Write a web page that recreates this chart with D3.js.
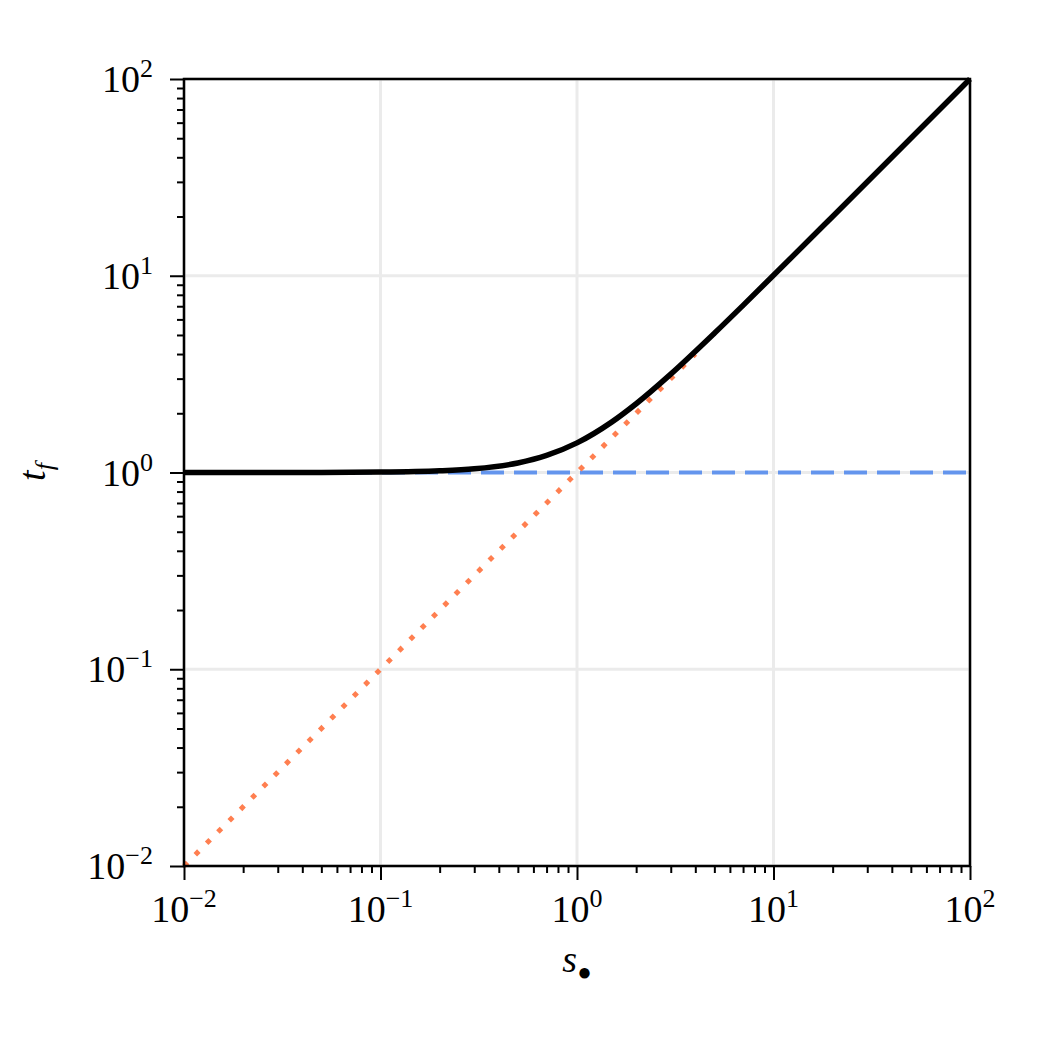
<!DOCTYPE html>
<html>
<head>
<meta charset="utf-8">
<script src="https://cdn.jsdelivr.net/npm/d3@7"></script>
<style>
  body { margin: 0; background: #fff; }
  svg { display: block; }
  .lbl { font-family: "Liberation Serif", "DejaVu Serif", serif; fill: #000; }
</style>
</head>
<body>
<div id="mainDiv"></div>
<script>

// values
var sVals = [0.01, 0.02, 0.05, 0.1, 0.2, 0.3, 0.5, 0.7, 1, 1.5, 2, 3, 5, 7, 10, 20, 50, 100];
var tVals = [1.0, 1.0002, 1.0012, 1.005, 1.02, 1.044, 1.118, 1.221, 1.414, 1.803, 2.236, 3.162, 5.099, 7.071, 10.05, 20.02, 50.01, 100];

var flatX = [0.01, 100];
var flatY = [1, 1];

var diagX = [0.01, 4];
var diagY = [0.01, 4];

var majorTicks = [0.01, 0.1, 1, 10, 100];
var tickExps = ["−2", "−1", "0", "1", "2"];

var chartW = 1050, chartH = 1050;
var plotLeft = 184, plotRight = 970, plotTop = 79, plotBottom = 866;

var svg = d3.select("#mainDiv").append("svg")
    .attr("width", chartW).attr("height", chartH);

var x = d3.scaleLog().domain([0.01, 100]).range([plotLeft, plotRight]);
var y = d3.scaleLog().domain([0.01, 100]).range([plotBottom, plotTop]);

var minorTicks = [];
for (var k = -2; k < 2; k++) {
    for (var m = 2; m <= 9; m++) {
        minorTicks.push(m * Math.pow(10, k));
    }
}

// grid
var grid = svg.append("g");
majorTicks.forEach(function(v) {
    grid.append("line").attr("x1", x(v)).attr("x2", x(v)).attr("y1", plotTop).attr("y2", plotBottom)
        .attr("stroke", "#ebebeb").attr("stroke-width", 3);
    grid.append("line").attr("x1", plotLeft).attr("x2", plotRight).attr("y1", y(v)).attr("y2", y(v))
        .attr("stroke", "#ebebeb").attr("stroke-width", 3);
});

var line = function(xs, ys, curve) {
    var pts = xs.map(function(d, i) { return [d, ys[i]]; });
    return d3.line().x(function(d) { return x(d[0]); }).y(function(d) { return y(d[1]); })
        .curve(curve || d3.curveLinear)(pts);
};

svg.append("path").attr("d", line(flatX, flatY)).attr("fill", "none")
    .attr("stroke", "#6495ed").attr("stroke-width", 4).attr("stroke-dasharray", "23,10");

svg.append("path").attr("d", line(diagX, diagY)).attr("fill", "none")
    .attr("stroke", "#ff7f50").attr("stroke-width", 5).attr("stroke-dasharray", "5,11");

svg.append("path").attr("d", line(sVals, tVals, d3.curveMonotoneX)).attr("fill", "none")
    .attr("stroke", "#000").attr("stroke-width", 5.5);

// spines
svg.append("rect").attr("x", plotLeft).attr("y", plotTop)
    .attr("width", plotRight - plotLeft).attr("height", plotBottom - plotTop)
    .attr("fill", "none").attr("stroke", "#000").attr("stroke-width", 2.5);

// axes
function styleAxis(g) {
    g.select(".domain").remove();
    g.selectAll(".tick line").attr("stroke", "#000").attr("stroke-width", 2);
    g.selectAll(".tick text").remove();
}

svg.append("g").attr("transform", "translate(0," + plotBottom + ")")
    .call(d3.axisBottom(x).tickValues(majorTicks).tickSize(14)).call(styleAxis);
svg.append("g").attr("transform", "translate(0," + plotBottom + ")")
    .call(d3.axisBottom(x).tickValues(minorTicks).tickSize(7)).call(styleAxis);
svg.append("g").attr("transform", "translate(" + plotLeft + ",0)")
    .call(d3.axisLeft(y).tickValues(majorTicks).tickSize(14)).call(styleAxis);
svg.append("g").attr("transform", "translate(" + plotLeft + ",0)")
    .call(d3.axisLeft(y).tickValues(minorTicks).tickSize(7)).call(styleAxis);

// tick labels
function powLabel(g, xp, yp, anchor, exp) {
    var t = g.append("text").attr("class", "lbl").attr("x", xp).attr("y", yp)
        .attr("text-anchor", anchor).style("font-size", "38px");
    t.append("tspan").text("10");
    t.append("tspan").attr("dy", -15).style("font-size", "26px").text(exp);
}

majorTicks.forEach(function(v, i) {
    powLabel(svg, x(v), 922, "middle", tickExps[i]);
    powLabel(svg, 153, y(v) + 13, "end", tickExps[i]);
});

// axis titles
var xt = svg.append("text").attr("class", "lbl").attr("x", 577).attr("y", 972)
    .attr("text-anchor", "middle").style("font-size", "38px");
xt.append("tspan").style("font-style", "italic").text("s");
xt.append("tspan").attr("dy", 8).style("font-size", "24px").text("●");

var yt = svg.append("text").attr("class", "lbl")
    .attr("transform", "translate(45,472) rotate(-90)")
    .attr("text-anchor", "middle").style("font-size", "38px");
yt.append("tspan").style("font-style", "italic").text("t");
yt.append("tspan").attr("dy", 8).style("font-size", "26px").style("font-style", "italic").text("f");

</script>
</body>
</html>
